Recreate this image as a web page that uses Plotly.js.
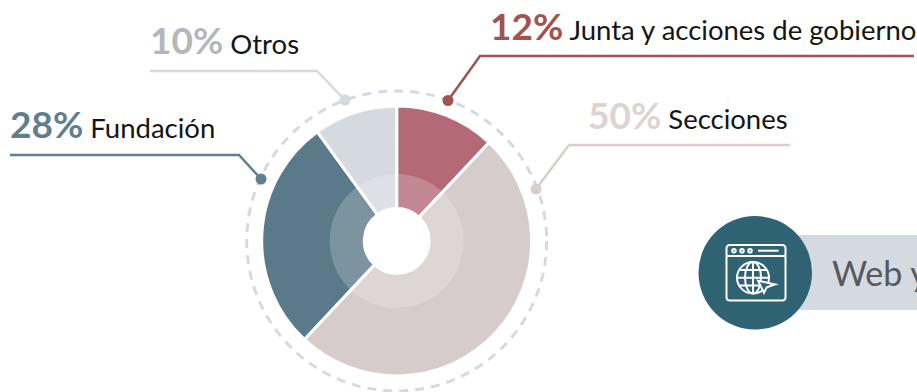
<!DOCTYPE html>
<html><head><meta charset="utf-8">
<script src="https://cdn.plot.ly/plotly-3.0.1.min.js"></script>
<style>html,body{margin:0;padding:0;background:#fff;overflow:hidden}</style></head>
<body><div id="c" style="width:917px;height:392px"></div>
<script>
const categories = ["Junta y acciones de gobierno","Secciones","Fundación","Otros"];
const shares = [12,50,28,10];
const outerColors = ["#b36a76","#d5cccb","#5a7a89","#d5dae1"];
const labelColors = ["#a0544f","#dcd4d1","#5f7f8e","#b4b7ba"];
const lineColors = ["#a0544f","#d8cfcc","#5f7f8e","#d5dae1"];
const W=917,H=392,cx=396.7,cy=241,R=135,r2=67;
function dom(r){return {x:[(cx-r)/W,(cx+r)/W],y:[1-(cy+r)/H,1-(cy-r)/H]};}
const traces=[{type:'pie',labels:categories,values:shares,sort:false,direction:'clockwise',rotation:0,
 textinfo:'none',hoverinfo:'label+percent',showlegend:false,
 domain:dom(R),hole:0.24,marker:{colors:outerColors,line:{color:'#fff',width:3}}}];
const leaders=[
 {pts:[[914,56],[480,56],[448,100.5]]},
 {pts:[[790,145],[569,145],[536,189]]},
 {pts:[[10,155],[239,155],[261,179]]},
 {pts:[[150,71],[317,71],[345,100]]}
];
const px=(o)=>Object.assign({xref:'x',yref:'y'},o);
const shapes=[];
shapes.push(px({type:'circle',x0:cx-150,x1:cx+150,y0:cy-150,y1:cy+150,line:{color:'#d5dae1',width:3,dash:'9px,7px'},layer:'below'}));
shapes.push(px({type:'circle',x0:cx-r2,x1:cx+r2,y0:cy-r2,y1:cy+r2,fillcolor:'rgba(255,255,255,0.2)',line:{width:0},layer:'above'}));
leaders.forEach((l,i)=>{
 const p=l.pts;
 shapes.push(px({type:'path',path:'M'+p.map(q=>q.join(',')).join('L'),line:{color:lineColors[i],width:2.5}}));
 const e=p[p.length-1];
 shapes.push(px({type:'circle',x0:e[0]-5.5,x1:e[0]+5.5,y0:e[1]-5.5,y1:e[1]+5.5,fillcolor:lineColors[i],line:{width:0}}));
});
shapes.push(px({type:'rect',x0:790,x1:930,y0:235,y1:310,fillcolor:'#d5dae1',line:{width:0}}));
shapes.push(px({type:'circle',x0:698.5,x1:812,y0:216,y1:329.5,fillcolor:'#2f6272',line:{width:0}}));
const ic={color:'#fff',width:2};
shapes.push(px({type:'path',path:'M730,245H782Q785.5,245 785.5,248.5V297Q785.5,300.5 782,300.5H730Q726.5,300.5 726.5,297V248.5Q726.5,245 730,245Z',line:ic}));
shapes.push(px({type:'path',path:'M726.5,256H785.5',line:ic}));
shapes.push(px({type:'path',path:'M758,250.7H778.5',line:ic}));
[734,742,750].forEach(x=>shapes.push(px({type:'circle',x0:x-1.8,x1:x+1.8,y0:248.9,y1:252.5,line:ic})));
shapes.push(px({type:'circle',x0:737,x1:769,y0:262,y1:293.5,line:ic}));
shapes.push(px({type:'circle',x0:745,x1:761,y0:262,y1:293.5,line:ic}));
shapes.push(px({type:'path',path:'M753,262V293.5M739.5,270H766.5M737,277.7H769M739.5,285.5H766.5',line:ic}));
shapes.push(px({type:'path',path:'M758,280.7L775,284.5L766.8,287.2L764,292.7Z',fillcolor:'#2f6272',line:ic}));
const F='Lato, "Open Sans", sans-serif';
const textPos=[[488,25],[586,114],[8,123],[148,39]];
const annotations=categories.map((c,i)=>({xref:'x',yref:'y',x:textPos[i][0],y:textPos[i][1],xanchor:'left',yanchor:'middle',showarrow:false,align:'left',
 text:'<b><span style="font-size:37px;color:'+labelColors[i]+'">'+shares[i]+'%</span></b> '+c,
 font:{family:F,size:27.5,color:'#151515'}}));
annotations.push({xref:'x',yref:'y',x:830,y:272,xanchor:'left',yanchor:'middle',showarrow:false,text:'Web y',font:{family:F,size:34,color:'#55595d'}});
const ax=(range)=>({range,visible:false,fixedrange:true});
Plotly.newPlot('c',traces,{width:W,height:H,margin:{l:0,r:0,t:0,b:0},paper_bgcolor:'#fff',plot_bgcolor:'rgba(0,0,0,0)',
 xaxis:ax([0,W]),yaxis:ax([H,0]),shapes,annotations},{displayModeBar:false,staticPlot:true});
</script></body></html>
